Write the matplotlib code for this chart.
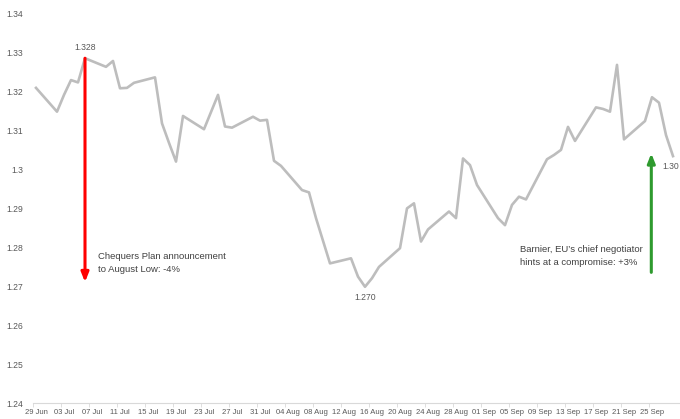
import numpy as np
import pandas as pd
import matplotlib
matplotlib.use("Agg")
import matplotlib.pyplot as plt
import matplotlib.dates as mdates
from matplotlib.ticker import FuncFormatter

# GBP/USD daily close, 29 Jun - 28 Sep 2018
dates = ["2018-06-29", "2018-07-02", "2018-07-03", "2018-07-04", "2018-07-05", "2018-07-06",
         "2018-07-09", "2018-07-10", "2018-07-11", "2018-07-12", "2018-07-13",
         "2018-07-16", "2018-07-17", "2018-07-18", "2018-07-19", "2018-07-20",
         "2018-07-23", "2018-07-24", "2018-07-25", "2018-07-26", "2018-07-27",
         "2018-07-30", "2018-07-31", "2018-08-01", "2018-08-02", "2018-08-03",
         "2018-08-06", "2018-08-07", "2018-08-08", "2018-08-09", "2018-08-10",
         "2018-08-13", "2018-08-14", "2018-08-15", "2018-08-16", "2018-08-17",
         "2018-08-20", "2018-08-21", "2018-08-22", "2018-08-23", "2018-08-24",
         "2018-08-27", "2018-08-28", "2018-08-29", "2018-08-30", "2018-08-31",
         "2018-09-03", "2018-09-04", "2018-09-05", "2018-09-06", "2018-09-07",
         "2018-09-10", "2018-09-11", "2018-09-12", "2018-09-13", "2018-09-14",
         "2018-09-17", "2018-09-18", "2018-09-19", "2018-09-20", "2018-09-21",
         "2018-09-24", "2018-09-25", "2018-09-26", "2018-09-27", "2018-09-28"]
values = [1.3208, 1.3147, 1.3190, 1.3228, 1.3222, 1.3284,
          1.3262, 1.3277, 1.3207, 1.3208, 1.3221,
          1.3235, 1.3117, 1.3067, 1.3019, 1.3136,
          1.3102, 1.3146, 1.3190, 1.3109, 1.3106,
          1.3134, 1.3124, 1.3126, 1.3021, 1.3008,
          1.2946, 1.2940, 1.2874, 1.2816, 1.2758,
          1.2771, 1.2724, 1.2698, 1.2720, 1.2749,
          1.2797, 1.2899, 1.2912, 1.2814, 1.2845,
          1.2891, 1.2874, 1.3027, 1.3010, 1.2959,
          1.2874, 1.2856, 1.2908, 1.2929, 1.2922,
          1.3025, 1.3036, 1.3049, 1.3108, 1.3072,
          1.3158, 1.3154, 1.3147, 1.3267, 1.3076,
          1.3123, 1.3184, 1.3170, 1.3087, 1.3033]

high_label = "1.328"
low_label = "1.270"
last_label = "1.30"
chequers_text = "Chequers Plan announcement\nto August Low: -4%"
barnier_text = "Barnier, EU\u2019s chief negotiator\nhints at a compromise: +3%"

x = mdates.date2num(pd.to_datetime(dates))
y = np.array(values)
start = mdates.date2num(pd.Timestamp("2018-06-29"))

fig = plt.figure(figsize=(6.8, 4.19), dpi=100)
ax = fig.add_axes([32.5 / 680, 1 - 403 / 419, 1 - 32.5 / 680, 390 / 419])

font = ["Liberation Sans", "DejaVu Sans"]
txt_col = "#595959"

ax.plot(x, y, color="#bdbdbd", lw=1.9, solid_joinstyle="round", zorder=2)

ax.set_xlim(start - 0.5, start + 92.0)
ax.set_ylim(1.24, 1.34)

# y axis
ax.set_yticks(np.round(np.arange(1.24, 1.3401, 0.01), 2))
ax.yaxis.set_major_formatter(FuncFormatter(lambda v, p: ("%.2f" % v).rstrip("0")))
ax.tick_params(axis="y", length=0, pad=6.5, labelsize=6.2, labelcolor=txt_col)

# x axis: labels on dates, tick marks at slot edges
major = start + np.arange(0, 92, 4)
ax.set_xticks(major)
ax.set_xticklabels([mdates.num2date(v).strftime("%d %b") for v in major])
ax.set_xticks(major - 0.5, minor=True)
ax.tick_params(axis="x", which="major", length=0, pad=4, labelsize=5.5, labelcolor=txt_col)
ax.tick_params(axis="x", which="minor", length=3, width=0.6, color="#d9d9d9")

for lab in ax.get_xticklabels() + ax.get_yticklabels():
    lab.set_family(font)

for s in ["top", "right", "left"]:
    ax.spines[s].set_visible(False)
ax.spines["bottom"].set_color("#d9d9d9")
ax.spines["bottom"].set_linewidth(0.8)

# data labels
i_hi = int(np.argmax(y))
i_lo = int(np.argmin(y))
ax.text(x[i_hi], y[i_hi] + 0.0016, high_label, ha="center", va="bottom",
        fontsize=6.2, color=txt_col, family=font)
ax.text(x[i_lo], y[i_lo] - 0.0016, low_label, ha="center", va="top",
        fontsize=6.2, color=txt_col, family=font)
ax.text(0.998, y[-1] - 0.0015, last_label, ha="right", va="top",
        transform=ax.get_yaxis_transform(),
        fontsize=6.2, color=txt_col, family=font)

# arrows
ax.annotate("", xy=(x[i_hi], 1.2710), xytext=(x[i_hi], y[i_hi]),
            arrowprops=dict(arrowstyle="-|>,head_length=0.55,head_width=0.22",
                            color="#ff0000", lw=2.2, shrinkA=0, shrinkB=0))
green_x = mdates.date2num(pd.Timestamp("2018-09-25")) - 0.1
ax.annotate("", xy=(green_x, 1.3040), xytext=(green_x, 1.2735),
            arrowprops=dict(arrowstyle="-|>,head_length=0.55,head_width=0.22",
                            color="#2e9a2e", lw=2.2, shrinkA=0, shrinkB=0))

# annotation texts
ax.text(start + 8.9, 1.2787, chequers_text, ha="left", va="top", fontsize=6.8,
        color="#404040", family=font, linespacing=1.5)
ax.text(start + 69.1, 1.2804, barnier_text, ha="left", va="top", fontsize=6.8,
        color="#404040", family=font, linespacing=1.5)

fig.savefig("out.png", dpi=100)
